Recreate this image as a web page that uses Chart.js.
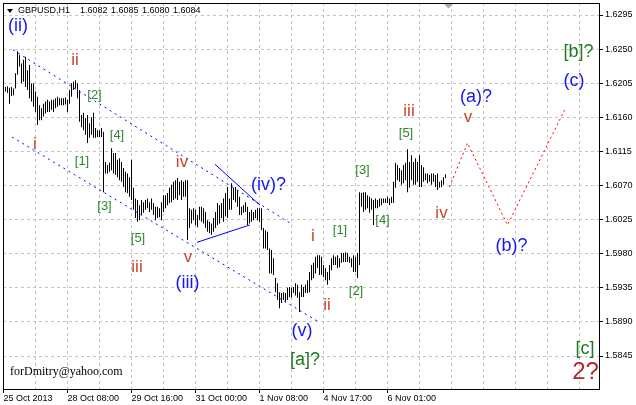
<!DOCTYPE html>
<html><head><meta charset="utf-8">
<script src="https://cdn.jsdelivr.net/npm/chart.js@4.4.0/dist/chart.umd.min.js"></script>
<style>html,body{margin:0;padding:0;background:#fff;}canvas{display:block;}</style>
</head><body>
<canvas id="c" width="636" height="405"></canvas>
<script>
// ---------- data ----------
const symbolInfo = 'GBPUSD,H1';
const headerQuote = ['1.6082', '1.6085', '1.6080', '1.6084'];
const firstBar = 1;           // index of the first hourly bar shown
const barHigh = [
1.6200,1.6201,1.6199,1.6200,1.6198,1.6218,1.6247,1.6242,1.6231,1.6236,
1.6240,1.6222,1.6229,1.6205,1.6205,1.6194,1.6187,1.6176,1.6172,1.6178,
1.6181,1.6183,1.6181,1.6183,1.6183,1.6185,1.6187,1.6185,1.6185,1.6185,
1.6186,1.6183,1.6196,1.6205,1.6207,1.6209,1.6205,1.6196,1.6163,1.6166,
1.6159,1.6163,1.6152,1.6160,1.6166,1.6146,1.6143,1.6143,1.6146,1.6141,
1.6101,1.6097,1.6100,1.6119,1.6113,1.6113,1.6104,1.6106,1.6101,1.6093,
1.6088,1.6086,1.6081,1.6104,1.6067,1.6053,1.6051,1.6044,1.6051,1.6048,
1.6051,1.6053,1.6048,1.6053,1.6047,1.6042,1.6042,1.6040,1.6048,1.6057,
1.6057,1.6060,1.6067,1.6071,1.6075,1.6077,1.6080,1.6075,1.6077,1.6075,
1.6077,1.6077,1.6040,1.6038,1.6040,1.6038,1.6031,1.6042,1.6042,1.6040,
1.6035,1.6024,1.6022,1.6020,1.6027,1.6035,1.6047,1.6044,1.6047,1.6053,
1.6060,1.6068,1.6053,1.6073,1.6067,1.6068,1.6064,1.6055,1.6042,1.6044,
1.6048,1.6042,1.6035,1.6038,1.6035,1.6038,1.6040,1.6040,1.6040,1.6014,
1.6011,1.6009,1.5987,1.5985,1.5974,1.5948,1.5941,1.5929,1.5928,1.5929,
1.5928,1.5935,1.5936,1.5935,1.5936,1.5941,1.5939,1.5929,1.5939,1.5936,
1.5939,1.5945,1.5956,1.5965,1.5968,1.5976,1.5978,1.5978,1.5976,1.5965,
1.5961,1.5956,1.5965,1.5974,1.5978,1.5976,1.5978,1.5974,1.5981,1.5981,
1.5982,1.5981,1.5976,1.5974,1.5978,1.5976,1.5981,1.6061,1.6060,1.6061,
1.6061,1.6057,1.6055,1.6053,1.6051,1.6053,1.6051,1.6053,1.6053,1.6053,
1.6053,1.6055,1.6053,1.6055,1.6075,1.6100,1.6097,1.6093,1.6090,1.6097,
1.6100,1.6118,1.6101,1.6110,1.6101,1.6106,1.6101,1.6110,1.6097,1.6094,
1.6086,1.6086,1.6084,1.6086,1.6086,1.6084,1.6086,1.6075,1.6077,1.6081,
1.6085];
const barLow = [
1.6194,1.6192,1.6178,1.6188,1.6189,1.6198,1.6216,1.6227,1.6205,1.6207,
1.6200,1.6196,1.6185,1.6181,1.6174,1.6167,1.6150,1.6156,1.6156,1.6161,
1.6165,1.6167,1.6167,1.6170,1.6167,1.6172,1.6174,1.6176,1.6176,1.6176,
1.6177,1.6167,1.6178,1.6187,1.6196,1.6198,1.6185,1.6154,1.6147,1.6143,
1.6137,1.6126,1.6133,1.6137,1.6133,1.6133,1.6134,1.6134,1.6134,1.6061,
1.6086,1.6086,1.6088,1.6090,1.6086,1.6084,1.6081,1.6077,1.6075,1.6068,
1.6061,1.6060,1.6055,1.6051,1.6038,1.6027,1.6022,1.6024,1.6031,1.6034,
1.6038,1.6040,1.6035,1.6038,1.6031,1.6024,1.6027,1.6028,1.6024,1.6035,
1.6040,1.6044,1.6047,1.6048,1.6051,1.6053,1.6051,1.6057,1.6051,1.6055,
1.6055,1.5998,1.6014,1.6020,1.6024,1.6018,1.6015,1.6024,1.6022,1.6020,
1.6014,1.6009,1.6007,1.6005,1.6009,1.6014,1.6018,1.6020,1.6027,1.6022,
1.6029,1.6027,1.6038,1.6038,1.6051,1.6048,1.6042,1.6031,1.6031,1.6034,
1.6035,1.6018,1.6020,1.6022,1.6024,1.6027,1.6024,1.6022,1.6011,1.5987,
1.5987,1.5985,1.5954,1.5954,1.5952,1.5929,1.5919,1.5908,1.5915,1.5919,
1.5916,1.5919,1.5923,1.5922,1.5928,1.5925,1.5922,1.5903,1.5923,1.5923,
1.5928,1.5928,1.5929,1.5945,1.5948,1.5954,1.5961,1.5952,1.5952,1.5949,
1.5945,1.5939,1.5945,1.5958,1.5965,1.5965,1.5961,1.5962,1.5968,1.5969,
1.5969,1.5969,1.5968,1.5962,1.5956,1.5956,1.5948,1.5965,1.6042,1.6035,
1.6038,1.6040,1.6034,1.6038,1.6018,1.6040,1.6040,1.6042,1.6044,1.6047,
1.6047,1.6047,1.6044,1.6047,1.6047,1.6067,1.6077,1.6075,1.6071,1.6073,
1.6077,1.6061,1.6067,1.6077,1.6071,1.6071,1.6075,1.6068,1.6068,1.6075,
1.6077,1.6073,1.6075,1.6071,1.6075,1.6068,1.6064,1.6067,1.6068,1.6071,
1.6080];
const timeLabels = ['25 Oct 2013', '28 Oct 08:00', '29 Oct 16:00', '31 Oct 00:00', '1 Nov 08:00', '4 Nov 17:00', '6 Nov 01:00'];
const timeLabelEvery = 32;    // bars between time labels
const gridEvery = 16;         // bars between vertical grid lines
const lastGridBar = 288;
const priceTicks = [1.5845, 1.5890, 1.5935, 1.5980, 1.6025, 1.6070, 1.6115, 1.6160, 1.6205, 1.6250, 1.6295];
// projected path (bar index, price)
const forecastBars = [223, 232, 252, 281];
const forecastPrices = [1.6068, 1.6126, 1.6018, 1.6172];
// trend lines (bar index, price)
const channelUpper = [[4.75, 1.6249], [144.75, 1.6018]];
const channelLower = [[4.25, 1.6134], [158.25, 1.5889]];
const triangleUpper = [[105.75, 1.6098], [128.25, 1.6044]];
const triangleLower = [[96.75, 1.5995], [123.25, 1.6018]];
// wave labels (text, bar index, price, kind)
const waveLabels = [
  ['(ii)', 7.25, 1.62805, 'blue'],
  ['ii', 35.75, 1.6235, 'red'],
  ['[2]', 45.5, 1.61894, 'green'],
  ['[4]', 56.75, 1.61366, 'green'],
  ['i', 15.75, 1.61247, 'red'],
  ['[1]', 39.25, 1.61023, 'green'],
  ['[3]', 50.5, 1.60422, 'green'],
  ['[5]', 67.25, 1.6000, 'green'],
  ['iii', 66.75, 1.59624, 'red'],
  ['iv', 89.25, 1.6101, 'red'],
  ['v', 92.25, 1.59756, 'red'],
  ['(iii)', 92, 1.59412, 'blue'],
  ['(iv)?', 132.5, 1.60706, 'blue'],
  ['i', 154.75, 1.60033, 'red'],
  ['(v)', 149.25, 1.58779, 'blue'],
  ['[a]?', 150.75, 1.58396, 'bigGreen'],
  ['ii', 161.75, 1.59122, 'red'],
  ['[2]', 176.25, 1.59307, 'green'],
  ['[1]', 168.25, 1.60105, 'green'],
  ['[3]', 179.5, 1.60904, 'green'],
  ['[4]', 189.5, 1.60237, 'green'],
  ['[5]', 201.25, 1.61392, 'green'],
  ['iii', 202.75, 1.61676, 'red'],
  ['iv', 219, 1.6033, 'red'],
  ['(a)?', 236.25, 1.61868, 'blue'],
  ['v', 232.25, 1.6160, 'red'],
  ['(b)?', 254, 1.59901, 'blue'],
  ['[b]?', 287.5, 1.62455, 'bigGreen'],
  ['(c)', 285.25, 1.62079, 'blue'],
  ['[c]', 290.75, 1.58541, 'bigGreen'],
  ['2?', 291, 1.58231, 'big']
];
const signature = 'forDmitry@yahoo.com';

// ---------- styles ----------
const labelStyle = {
  blue: {color: '#1515f5', size: 18},
  red: {color: '#c8442c', size: 17},
  green: {color: '#2a8a2a', size: 13},
  bigGreen: {color: '#1f7a1f', size: 18},
  big: {color: '#b0282a', size: 24}
};
const FONT = '"Liberation Sans", Arial, sans-serif';

const barData = barHigh.map((h, k) => ({x: k + firstBar, y: [barLow[k], h]}));
const toPts = a => a.map(p => ({x: p[0], y: p[1]}));
const xTickValues = [];
for (let v = 0; v <= lastGridBar; v += gridEvery) xTickValues.push(v);

const lineDs = (pts, color, dash) => ({
  type: 'line', data: toPts(pts), borderColor: color, borderWidth: 1,
  borderDash: dash, pointRadius: 0, fill: false, tension: 0
});

const overlay = {
  id: 'overlay',
  afterDraw(chart) {
    const ctx = chart.ctx, a = chart.chartArea;
    const xs = chart.scales.x, ys = chart.scales.y;
    ctx.save();
    // frame
    ctx.strokeStyle = '#000'; ctx.lineWidth = 1; ctx.setLineDash([]);
    ctx.strokeRect(a.left + 0.5, a.top + 0.5, a.right - a.left, a.bottom - a.top);
    // header
    ctx.fillStyle = '#000';
    ctx.beginPath();
    ctx.moveTo(a.left + 4, a.top + 6); ctx.lineTo(a.left + 10, a.top + 6); ctx.lineTo(a.left + 7, a.top + 10);
    ctx.closePath(); ctx.fill();
    ctx.font = '9px ' + FONT; ctx.textBaseline = 'middle'; ctx.textAlign = 'left';
    ctx.fillText(symbolInfo, a.left + 15, a.top + 7.5);
    headerQuote.forEach((q, i) => ctx.fillText(q, a.left + 77 + i * 31, a.top + 7.5));
    // shift marker
    const sx = Math.round(xs.getPixelForValue(firstBar + barHigh.length)) + 0.5;
    ctx.fillStyle = '#a8a8a8';
    ctx.beginPath();
    ctx.moveTo(sx - 4.5, a.top + 1); ctx.lineTo(sx + 4.5, a.top + 1); ctx.lineTo(sx, a.top + 5.5);
    ctx.closePath(); ctx.fill();
    // signature
    ctx.fillStyle = '#000';
    ctx.font = '12px "Liberation Serif", "Times New Roman", serif';
    ctx.textAlign = 'left';
    ctx.fillText(signature, a.left + 7, a.bottom - 17);
    // wave labels
    ctx.textAlign = 'center'; ctx.textBaseline = 'middle';
    waveLabels.forEach(([t, bx, py, kind]) => {
      const st = labelStyle[kind];
      ctx.font = st.size + 'px ' + FONT;
      ctx.fillStyle = st.color;
      ctx.fillText(t, xs.getPixelForValue(bx), ys.getPixelForValue(py));
    });
    ctx.restore();
  }
};

new Chart(document.getElementById('c'), {
  type: 'bar',
  data: {
    datasets: [
      {type: 'bar', data: barData, backgroundColor: '#000', borderWidth: 0, barThickness: 1,
       inflateAmount: 0, grouped: false, order: 1},
      lineDs(channelUpper, '#0000ff', [2, 4]),
      lineDs(channelLower, '#0000ff', [2, 4]),
      lineDs(triangleUpper, '#0000ff', []),
      lineDs(triangleLower, '#0000ff', []),
      {type: 'line', data: forecastBars.map((b, i) => ({x: b, y: forecastPrices[i]})), borderColor: '#ff0000',
       borderWidth: 1, borderDash: [2, 3], pointRadius: 0, fill: false, tension: 0}
    ]
  },
  options: {
    responsive: false, animation: false, devicePixelRatio: 1,
    layout: {padding: {left: 3, top: 3, right: 0, bottom: 0}},
    plugins: {legend: {display: false}, tooltip: {enabled: false}},
    scales: {
      x: {
        type: 'linear', min: -0.25, max: 297.75, offset: false,
        afterBuildTicks: s => { s.ticks = xTickValues.map(v => ({value: v})); },
        afterFit: s => { s.height = 16; s.paddingLeft = 0; s.paddingRight = 0; s.paddingTop = 0; s.paddingBottom = 0; },
        grid: {
          offset: false, lineWidth: 1, tickLength: 4,
          color: c => (c.tick && c.tick.value === 0) ? 'rgba(0,0,0,0)' : '#c4c4c4',
          tickColor: c => (c.tick && c.tick.value % timeLabelEvery === 0 && c.tick.value / timeLabelEvery < timeLabels.length) ? '#000' : 'rgba(0,0,0,0)'
        },
        border: {display: false, dash: [3, 3]},
        ticks: {
          autoSkip: false, maxRotation: 0, minRotation: 0, align: 'start', padding: 0,
          color: '#000', font: {family: FONT, size: 9},
          callback: v => (v % timeLabelEvery === 0 && timeLabels[v / timeLabelEvery]) ? timeLabels[v / timeLabelEvery] : ''
        }
      },
      y: {
        type: 'linear', position: 'right', min: 1.5801452, max: 1.6310836,
        afterBuildTicks: s => { s.ticks = priceTicks.map(v => ({value: v})); },
        afterFit: s => { s.width = 37; s.paddingLeft = 0; s.paddingRight = 0; s.paddingTop = 0; s.paddingBottom = 0; },
        grid: {lineWidth: 1, tickLength: 4, color: '#c4c4c4', tickColor: '#000'},
        border: {display: false, dash: [3, 3]},
        ticks: {padding: 2, color: '#000', font: {family: FONT, size: 9}, callback: v => v.toFixed(4)}
      }
    }
  },
  plugins: [overlay]
});
</script>
</body></html>
